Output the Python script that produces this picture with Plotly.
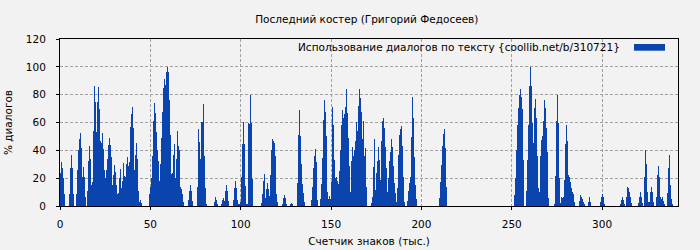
import numpy as np
import plotly.graph_objects as go

# Share of dialogue (%) per slice of text; slices follow each other along the text
# x unit: thousands of characters; each bar = one slice of STEP thousand chars
STEP = 0.5534

seg_0_55k = [23.5, 31.7, 27.6, 20, 8.4, 0, 0, 0, 0, 8.6,
             27.6, 36.7, 27.6, 8.6, 0, 0, 8.6, 26, 40, 48.5,
             52.5, 42, 21, 28, 21, 6.7, 0, 10.8, 32.4, 43,
             33.8, 15, 17.3, 54, 86, 75, 53.5, 75, 85.6, 70,
             46.8, 45, 52.5, 41, 26, 20, 26, 34, 44, 49,
             44, 35.5, 15, 22, 29.5, 24.7, 15, 8.4, 9, 20,
             26.4, 12.7, 18, 31, 21.6, 21, 30.5, 35, 29, 31.7,
             57, 66, 71, 56, 26, 36.7, 45.5, 33.8, 10.8, 3,
             4.3, 2.4, 0, 0, 0, 0, 0, 0, 0, 8.7,
             14, 20, 35.7, 61, 73.7, 67, 53, 40.5, 32.5, 18]

seg_55_111k = [30.4, 49, 67.5, 85, 91, 86.7, 96, 100, 96.4, 76,
               50.8, 23, 23.6, 36.9, 44.6, 20, 34, 53.7, 43, 40.5,
               14, 12.3, 8.4, 3, 0, 0, 0, 0, 4.3, 10.8,
               15, 10.8, 3.9, 0, 0, 0, 0, 14, 55, 46,
               34, 60.5, 60.5, 73, 36, 13, 1, 0, 0, 0,
               0, 0, 0, 0, 3, 6.7, 4.3, 1.4, 0, 0,
               0, 1.4, 4.3, 6, 3.9, 10.8, 15, 10.8, 3.9, 0,
               0, 0, 0, 4.3, 13, 18, 13, 4.3, 1, 1.4,
               3, 21, 44.6, 60.5, 44.6, 14.5, 1, 1.5, 60, 59,
               79.5, 60, 19.5, 0, 0, 0, 0, 0, 0, 0]

seg_111_166k = [0, 2, 8.7, 18, 23, 6, 12.3, 16.4, 12.3, 7,
                22.4, 40, 48.4, 47, 45, 36, 8.7, 3, 0, 0,
                0, 0, 1.4, 5.5, 7.7, 5.5, 1.4, 0, 0, 0,
                1.4, 2, 1.4, 0, 0, 0, 0, 16.4, 51, 68.7,
                50, 30, 16, 9, 3, 0, 0, 0, 0, 0,
                0, 4.3, 14, 27, 36, 41, 31.6, 4, 0, 0,
                4.8, 16, 34.5, 62, 76, 67.5, 50, 10.4, 4.8, 7.5,
                4.8, 17.6, 71, 58.5, 33, 20, 21, 18, 16, 25,
                40.5, 58.5, 68.7, 63, 65.8, 71, 84, 67, 49, 28.4,
                10, 32, 42.4, 35.7, 40.5, 46.5, 60.5, 53.7, 71.8, 84]

seg_166_221k = [77.8, 67.5, 48.4, 61, 35.7, 41.7, 14, 0, 0, 0,
                0, 2.4, 6.7, 28, 48.4, 11.6, 23.6, 32, 42.4, 33,
                18.8, 46.5, 61, 63, 56, 42.4, 27, 10.4, 20, 32.5,
                39, 48.4, 42.4, 29, 16.4, 9.6, 3, 13, 37, 51,
                55.6, 57.8, 43, 21, 3, 0, 0, 3.9, 10.8, 16.4,
                20.5, 49.6, 78.3, 63, 35, 15, 4.8, 0, 0, 0,
                0, 0, 0, 0, 0, 0, 0, 0, 0, 0,
                0, 0, 0, 0, 0, 0, 0, 0, 0, 6,
                17.6, 29.6, 43, 52, 55.6, 41.7, 14, 0, 0, 0,
                0, 0, 0, 0, 0, 0, 0, 0, 0, 0]

seg_221_277k = [0] * 54 + [
                8, 20, 40.5, 58.5, 70.6, 79.5, 84, 78.5, 69.4, 33,
                0, 0, 10.8, 33, 58.5, 86, 100, 86, 60, 45,
                70.6, 76.6, 63, 35.7, 12.8, 10.4, 35.7, 47.7, 50, 61,
                76, 70.6, 56, 38.5, 5.5, 0, 0, 0, 0, 0,
                1.4, 21.7, 61, 80, 60, 20]

seg_277_342k = [2.4, 6.7, 6, 6.7, 18.8, 44.8, 58.5, 46.5, 22.4, 21.2,
                17.6, 12.8, 10.4, 8.7, 3, 0, 0, 0, 0, 3.9,
                8, 6.7, 4.8, 3, 1.4, 0, 0, 0, 3, 6.3,
                3, 0, 0, 0, 0, 0, 0, 0, 0, 0,
                3, 6.7, 8.7, 6.7, 1.5, 0, 0, 0, 0, 0,
                0, 0, 0, 0, 0, 0, 0, 0, 0, 0,
                1.4, 4.3, 6.7, 4.3, 1.4, 0, 6.7, 14, 12.8, 9.9,
                6.7, 2, 0, 0, 0, 0, 0, 0, 2, 6.7,
                10.4, 6.7, 2, 0, 20.7, 40.5, 30, 10.4, 3, 3,
                10.4, 14, 10.4, 3, 0, 0, 6.7, 22.4, 28.4, 21.2,
                6.7, 4.8, 6.3, 3.9, 1.4, 0, 0, 9, 27, 37,
                15, 4.8, 1.4, 0, 0, 0, 0, 0]

TITLE = "Последний костер (Григорий Федосеев)"
SERIES = "Использование диалогов по тексту {coollib.net/b/310721}"
X_TITLE = "Счетчик знаков (тыс.)"
Y_TITLE = "% диалогов"
X_TICKS = [0, 50, 100, 150, 200, 250, 300]
Y_TICKS = [0, 20, 40, 60, 80, 100, 120]

values = np.array(seg_0_55k + seg_55_111k + seg_111_166k + seg_166_221k
                  + seg_221_277k + seg_277_342k, dtype=float)
n = len(values)
x = (np.arange(n) + 0.5) * STEP

BAR = "#0a44ae"
GRID = "#a0a0a0"
FS = 10.5

fig = go.Figure(go.Bar(x=x, y=values, width=STEP, marker=dict(color=BAR, line=dict(width=0)),
                       name=SERIES, showlegend=False))

fig.update_layout(
    width=700, height=250,
    margin=dict(l=60, r=22, t=39, b=44),
    paper_bgcolor="#f2f2f2", plot_bgcolor="#f2f2f2",
    bargap=0,
    font=dict(family="DejaVu Sans", size=FS, color="#000"),
    title=dict(text=TITLE, x=0.524, xanchor="center", y=1 - 19 / 250, yanchor="middle",
               yref="container", font=dict(size=FS, color="#000")),
    showlegend=False,
)
axis_common = dict(showline=True, linecolor="#000", linewidth=1, mirror=True,
                   ticks="outside", ticklen=3, tickcolor="#000", automargin=False,
                   showgrid=True, gridcolor=GRID, griddash="3px,2px", gridwidth=1,
                   zeroline=False, tickfont=dict(size=FS, color="#000"))
fig.update_xaxes(range=[0, n * STEP], tickvals=X_TICKS, ticklabelstandoff=5,
                 title=dict(text=X_TITLE, standoff=9, font=dict(size=FS)), **axis_common)
fig.update_yaxes(range=[0, 120], tickvals=Y_TICKS, ticklabelstandoff=8,
                 title=dict(text=Y_TITLE, standoff=11, font=dict(size=FS)), **axis_common)

fig.add_annotation(text=SERIES, xref="paper", yref="paper", x=(622 - 60) / 618, y=(206 - 47) / 167,
                   xanchor="right", yanchor="middle", showarrow=False, font=dict(size=FS, color="#000"))
fig.add_shape(type="rect", xref="paper", yref="paper",
              x0=(634 - 60) / 618, x1=(665 - 60) / 618, y0=(206 - 50.7) / 167, y1=(206 - 44) / 167,
              fillcolor=BAR, line=dict(width=0))

fig.write_html("out.html")
